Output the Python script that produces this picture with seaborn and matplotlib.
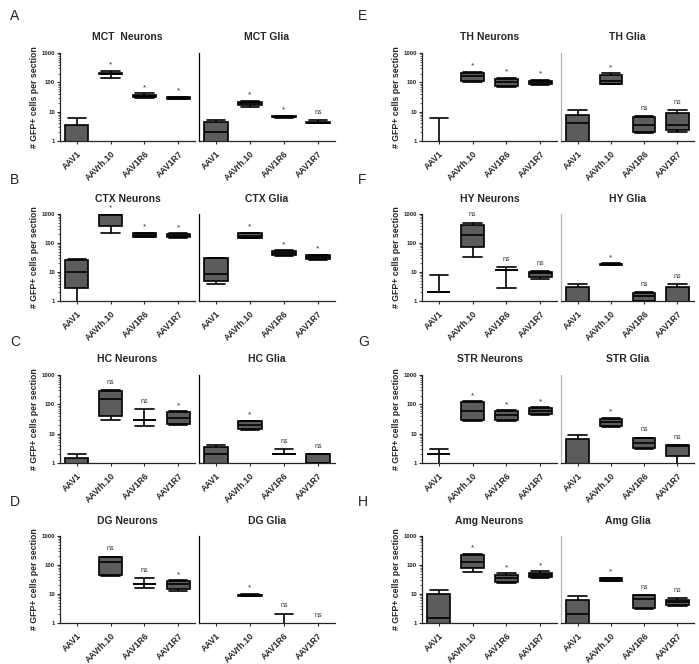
import numpy as np
import pandas as pd
import matplotlib.pyplot as plt
import seaborn as sns
from matplotlib.ticker import LogLocator, NullFormatter

sns.set_style("ticks")
plt.rcParams['font.family'] = ['Liberation Sans', 'DejaVu Sans']

vectors = ['AAV1', 'AAVrh.10', 'AAV1R6', 'AAV1R7']

# five-number summaries: min, q1, median, q3, max
# (values below 1 sit under the log axis and are clipped, as in the original)
mct_neurons = [[0.5, 0.5, 0.8, 3.6, 6], [145, 185, 200, 215, 245], [30, 32, 35, 37, 42], [26, 27, 29, 31, 32]]
mct_neurons_sig = ['', '*', '*', '*']
mct_glia = [[0.5, 0.7, 2.0, 4.4, 5.1], [14.5, 17, 19, 21, 23], [6.3, 6.5, 6.8, 7.0, 7.2], [4.0, 4.1, 4.2, 4.5, 5.1]]
mct_glia_sig = ['', '*', '*', 'ns']

ctx_neurons = [[0.5, 2.9, 9.8, 26, 29], [225, 400, 900, 980, 1000], [155, 160, 185, 215, 225], [150, 158, 180, 212, 220]]
ctx_neurons_sig = ['', '*', '*', '*']
ctx_glia = [[3.9, 4.9, 8.2, 30, 31], [145, 150, 180, 215, 230], [36, 38, 45, 53, 56], [26, 28, 33, 38, 40]]
ctx_glia_sig = ['', '*', '*', '*']

hc_neurons = [[0.5, 0.6, 0.8, 1.5, 2.0], [29, 39, 158, 285, 310], [18, 30, 30, 30, 69], [20.5, 22, 33, 54, 58]]
hc_neurons_sig = ['', 'ns', 'ns', '*']
hc_glia = [[0.5, 0.7, 2.0, 3.6, 4.0], [13, 14, 19, 26, 27.5], [2, 2, 2, 2, 3], [1, 1, 2, 2, 2]]
hc_glia_sig = ['', '*', 'ns', 'ns']

dg_neurons = [[0.5, 0.5, 0.5, 0.5, 0.5], [41, 45, 122, 190, 195], [16, 22, 22, 22, 35], [12.5, 14.5, 21.5, 28, 30]]
dg_neurons_sig = ['', 'ns', 'ns', '*']
dg_glia = [[0.5, 0.5, 0.5, 0.5, 0.5], [8.2, 8.5, 9, 9.5, 10], [0.5, 0.5, 0.5, 0.5, 2.1], [0.5, 0.5, 0.5, 0.5, 0.5]]
dg_glia_sig = ['', '*', 'ns', 'ns']

th_neurons = [[0.5, 0.5, 0.5, 0.5, 6], [100, 110, 165, 210, 225], [70, 75, 100, 135, 140], [80, 86, 100, 115, 120]]
th_neurons_sig = ['', '*', '*', '*']
th_glia = [[0.5, 0.7, 4.1, 7.5, 11.5], [85, 88, 115, 175, 205], [1.9, 2.0, 3.6, 6.6, 7.0], [2.0, 2.3, 3.6, 9.0, 11]]
th_glia_sig = ['', '*', 'ns', 'ns']

hy_neurons = [[2, 2, 2, 2, 8], [34, 70, 190, 430, 500], [2.9, 12, 12, 12, 15], [5.6, 6.9, 9, 10.4, 11]]
hy_neurons_sig = ['', 'ns', 'ns', 'ns']
hy_glia = [[0.5, 0.5, 0.8, 3.1, 3.9], [17.5, 18, 19, 19.5, 20], [1.0, 1.0, 1.5, 1.95, 2.0], [0.5, 0.5, 0.8, 3.1, 3.9]]
hy_glia_sig = ['', '*', 'ns', 'ns']

str_neurons = [[0.5, 2, 2, 2, 3], [27, 29, 60, 122, 125], [28, 30, 42, 58, 62], [45, 47, 58, 73, 78]]
str_neurons_sig = ['', '*', '*', '*']
str_glia = [[0.5, 0.5, 0.8, 6.6, 9.2], [17, 18, 25, 32, 35], [3.0, 3.2, 4.8, 7.0, 7.3], [0.5, 1.8, 3.9, 4.0, 4.0]]
str_glia_sig = ['', '*', 'ns', 'ns']

amg_neurons = [[0.5, 0.7, 1.5, 10.4, 13.5], [58, 76, 130, 215, 245], [24, 26, 36, 47, 51], [37, 38, 46, 54, 60]]
amg_neurons_sig = ['', '*', '*', '*']
amg_glia = [[0.5, 0.7, 2.1, 6.4, 8.3], [27, 28, 31, 35, 37], [3.0, 3.3, 6.8, 9.0, 9.2], [4.0, 4.1, 5.3, 6.4, 7.3]]
amg_glia_sig = ['', '*', 'ns', 'ns']

W, H = 699, 664
fig = plt.figure(figsize=(W / 100, H / 100), dpi=100)


def add_ax(x0, x1, y0, y1):
    return fig.add_axes([x0 / W, 1 - y1 / H, (x1 - x0) / W, (y1 - y0) / H])


def draw(ax, stats, sig, title, neurons, spine_color='black'):
    df = pd.DataFrame([(v, val) for v, s in zip(vectors, stats) for val in s],
                      columns=['vector', 'count'])
    sns.boxplot(data=df, x='vector', y='count', order=vectors, ax=ax,
                color='#5c5c5c', linecolor='black', linewidth=1.2, width=0.68,
                whis=(0, 100), showfliers=False, log_scale=True, capwidths=0.55)
    ax.set_ylim(1, 1000)
    ax.set_xlim(-0.5, 3.5)
    for i, (s, lab) in enumerate(zip(stats, sig)):
        if lab:
            top = max(max(s), 1.0)
            ax.annotate(lab, (i, top), xytext=(0, 3 if lab == '*' else 4.5),
                        textcoords='offset points', ha='center', va='baseline',
                        color='#333333', fontsize=6 if lab == '*' else 5)
    ax.set_title(title, fontsize=7.5, fontweight='bold', pad=9)
    ax.set_xlabel('')
    ax.set_xticks(range(4))
    ax.set_xticklabels(vectors, rotation=45, ha='right', rotation_mode='anchor',
                       fontsize=6.2, fontweight='bold')
    ax.tick_params(axis='x', length=2.5, width=0.8, pad=3.5)
    sns.despine(ax=ax)
    for sp in ['left', 'bottom']:
        ax.spines[sp].set_linewidth(0.9)
    if neurons:
        ax.set_yticks([1, 10, 100, 1000])
        ax.set_yticklabels(['1', '10', '100', '1000'], fontsize=4.4, fontweight='bold')
        ax.yaxis.set_minor_locator(LogLocator(subs=range(2, 10)))
        ax.yaxis.set_minor_formatter(NullFormatter())
        ax.tick_params(axis='y', which='major', length=2.5, width=0.8, pad=1)
        ax.tick_params(axis='y', which='minor', length=1.3, width=0.5)
        ax.set_ylabel('# GFP+ cells per section', fontsize=6.3, fontweight='bold', labelpad=2)
    else:
        ax.tick_params(axis='y', which='both', left=False, labelleft=False)
        ax.set_ylabel('')
        ax.spines['left'].set_color(spine_color)


# letter, neurons/glia titles, data, column x-extents, row y-extents
rows = [(53, 141), (214, 301), (375, 463), (536, 623)]
letter_y = [16, 180, 342, 502]
left_cols = (60, 195, 199, 335)
right_cols = (422, 557, 561, 694)

panels = [
    ('A', 'MCT  Neurons', 'MCT Glia', mct_neurons, mct_neurons_sig, mct_glia, mct_glia_sig, 0, 0),
    ('B', 'CTX Neurons', 'CTX Glia', ctx_neurons, ctx_neurons_sig, ctx_glia, ctx_glia_sig, 0, 1),
    ('C', 'HC Neurons', 'HC Glia', hc_neurons, hc_neurons_sig, hc_glia, hc_glia_sig, 0, 2),
    ('D', 'DG Neurons', 'DG Glia', dg_neurons, dg_neurons_sig, dg_glia, dg_glia_sig, 0, 3),
    ('E', 'TH Neurons', 'TH Glia', th_neurons, th_neurons_sig, th_glia, th_glia_sig, 1, 0),
    ('F', 'HY Neurons', 'HY Glia', hy_neurons, hy_neurons_sig, hy_glia, hy_glia_sig, 1, 1),
    ('G', 'STR Neurons', 'STR Glia', str_neurons, str_neurons_sig, str_glia, str_glia_sig, 1, 2),
    ('H', 'Amg Neurons', 'Amg Glia', amg_neurons, amg_neurons_sig, amg_glia, amg_glia_sig, 1, 3),
]

for letter, tn, tg, dn, sn, dgl, sg, col, row in panels:
    cx = left_cols if col == 0 else right_cols
    y0, y1 = rows[row]
    ax_n = add_ax(cx[0], cx[1], y0, y1)
    ax_g = add_ax(cx[2], cx[3], y0, y1)
    draw(ax_n, dn, sn, tn, True)
    draw(ax_g, dgl, sg, tg, False, spine_color='black' if col == 0 else '#b5b5b5')
    fig.text((10 if col == 0 else 358) / W, 1 - letter_y[row] / H, letter,
             fontsize=10, va='center', ha='left')

fig.savefig('out.png', dpi=100)
